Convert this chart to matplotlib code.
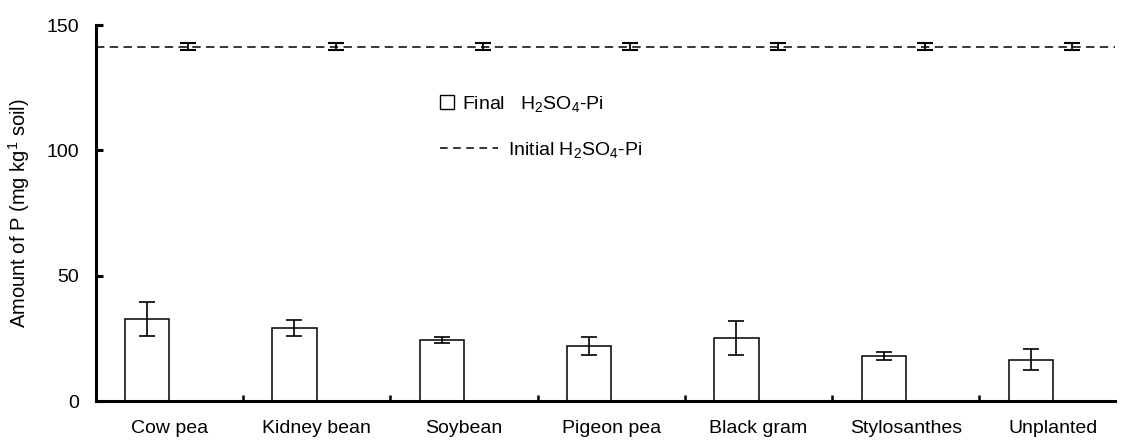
import matplotlib
matplotlib.use("Agg")
import matplotlib.pyplot as plt
from matplotlib.lines import Line2D
import numpy as np

plt.rcParams['font.family'] = ['Liberation Sans', 'DejaVu Sans']
plt.rcParams['mathtext.fontset'] = 'custom'
plt.rcParams['mathtext.rm'] = 'Liberation Sans'
plt.rcParams['mathtext.it'] = 'Liberation Sans'

categories = ["Cow pea", "Kidney bean", "Soybean", "Pigeon pea", "Black gram", "Stylosanthes", "Unplanted"]
final_pi = [32.6, 29.0, 24.3, 21.8, 25.0, 17.9, 16.5]
final_err = [6.7, 3.2, 1.1, 3.6, 6.8, 1.5, 4.3]
initial_pi = [141.5, 141.5, 141.5, 141.5, 141.5, 141.5, 141.5]
initial_err = [1.5, 1.5, 1.5, 1.5, 1.5, 1.5, 1.5]
initial_level = 141.2

W, H = 1121, 442
fig = plt.figure(figsize=(W / 100, H / 100), dpi=100)
ax = fig.add_axes([95.6 / W, 1 - 401 / H, (1115 - 95.6) / W, (401 - 25) / H])

x = np.arange(len(categories))
ax.bar(x - 0.15, final_pi, width=0.30, color='white', edgecolor='black', linewidth=1.1, zorder=2)
ax.errorbar(x - 0.15, final_pi, yerr=final_err, fmt='none', ecolor='black', elinewidth=1.2,
            capsize=6, capthick=1.2, zorder=3)

ax.axhline(initial_level, color='black', linestyle=(0, (5.5, 3.5)), linewidth=1.1, zorder=1)
ax.errorbar(x + 0.13, initial_pi, yerr=initial_err, fmt='none', ecolor='black', elinewidth=1.3,
            capsize=6, capthick=1.5, zorder=3)

ax.set_xlim(-0.5, 6.42)
ax.set_ylim(0, 150)
ax.set_yticks([0, 50, 100, 150])
ax.set_xticks(x)
ax.set_xticklabels(categories, fontsize=14)
ax.set_xticks(x[:-1] + 0.5, minor=True)
ax.tick_params(axis='x', which='major', length=0, pad=14)
ax.tick_params(axis='x', which='minor', direction='in', length=4, width=1.8)
ax.tick_params(axis='y', direction='in', length=5, width=2.2, labelsize=14, pad=12)

for s in ['top', 'right']:
    ax.spines[s].set_visible(False)
ax.spines['left'].set_linewidth(2.2)
ax.spines['bottom'].set_linewidth(2.2)

ax.set_ylabel(r'Amount of P (mg kg$^{1}$ soil)', fontsize=14.5, labelpad=10)

h1 = [Line2D([0], [0], marker='s', linestyle='none', markerfacecolor='white',
             markeredgecolor='black', markersize=9.5, markeredgewidth=1.0)]
leg1 = fig.legend(h1, [r'Final   H$_2$SO$_4$-Pi'], loc='center left',
                  bbox_to_anchor=(440 / W, 1 - 104 / H), frameon=False, fontsize=14,
                  handlelength=0.7, handletextpad=0.45, borderpad=0, borderaxespad=0)
h2 = [Line2D([0], [0], color='black', linestyle=(0, (5, 3.6)), linewidth=1.1)]
leg2 = fig.legend(h2, [r'Initial H$_2$SO$_4$-Pi'], loc='center left',
                  bbox_to_anchor=(440 / W, 1 - 150 / H), frameon=False, fontsize=14,
                  handlelength=2.98, handletextpad=0.5, borderpad=0, borderaxespad=0)

fig.savefig('out.png', dpi=100)
